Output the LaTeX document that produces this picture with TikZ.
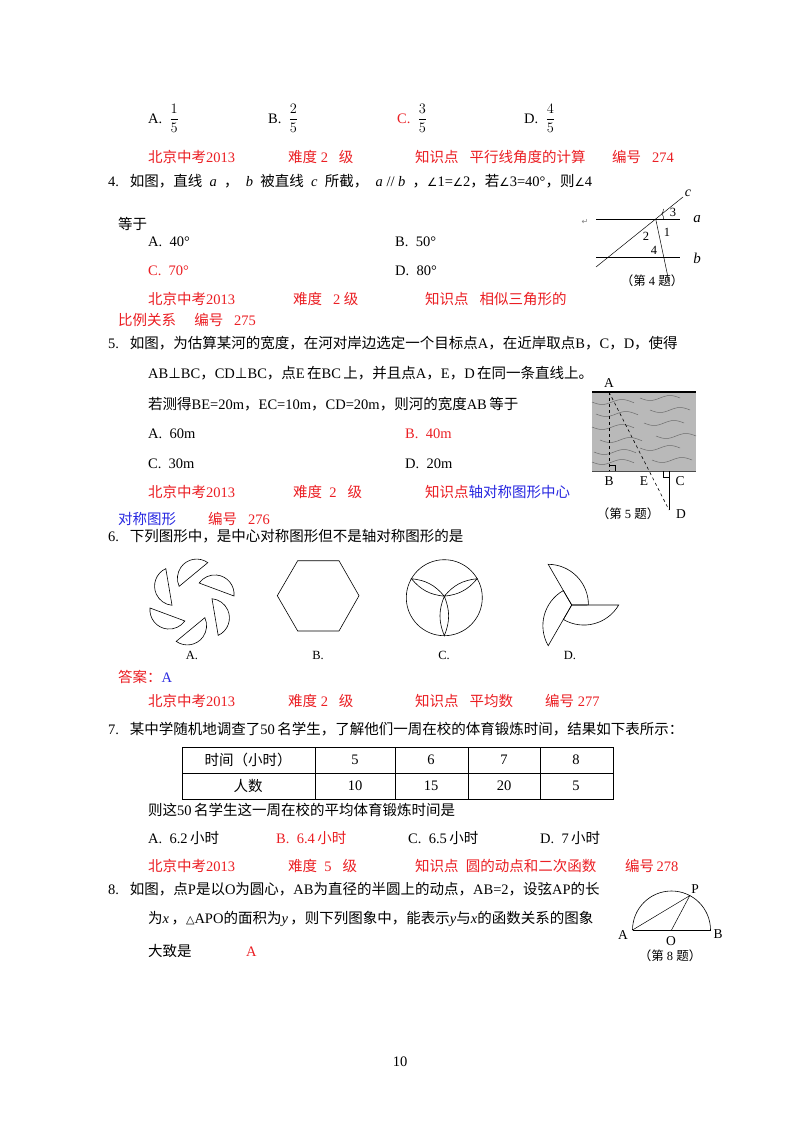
\documentclass[tikz,border=0pt]{standalone}
\usepackage{fontspec}
\setmainfont{Liberation Serif}
\newfontfamily\cjk{Noto Sans CJK SC}
\newfontfamily\sym{DejaVu Sans}
\usetikzlibrary{calc}
\definecolor{qred}{RGB}{235,30,35}
\definecolor{qblue}{RGB}{40,40,225}
\newcommand{\zh}[1]{{\cjk #1}}
\newcommand{\ang}{{\sym\fontsize{11.5}{12}\selectfont ∠}}
\begin{document}
\begin{tikzpicture}[x=1pt,y=-1pt,
  txt/.style={anchor=base west,inner sep=0pt,font=\fontsize{14.5}{16}\selectfont},
  rd/.style={txt,text=qred},
  blu/.style={txt,text=qblue},
  capt/.style={inner sep=0pt,font=\fontsize{12.5}{13}\selectfont},
  lab/.style={inner sep=0pt,font=\fontsize{13.5}{14}\selectfont},
  fig/.style={line width=0.6pt}]
\useasboundingbox[fill=white] (0,0) rectangle (800,1132);
% fractions line
\node[txt] (qa) at (148,123) {A.\ \ $\displaystyle\frac{1}{5}$};
\node[txt] (qb) at (268,123) {B.\ \ $\displaystyle\frac{2}{5}$};
\node[rd] (qc) at (397,123) {C.\ \ \color{black}$\displaystyle\frac{3}{5}$};
\node[txt] (qd) at (524,123) {D.\ \ $\displaystyle\frac{4}{5}$};
% info 274
\node[rd] (i1) at (148,162) {\zh{北京中考}2013};
\node[rd] (i2) at (288,162) {\zh{难度} 2\ \ \ \zh{级}};
\node[rd] (i3) at (415,162) {\zh{知识点}\ \ \ \zh{平行线角度的计算}};
\node[rd] (i4) at (612,162) {\zh{编号}\ \ \ 274};
% Q4
\node[txt] (q4) at (108,186) {4.\ \ \ \zh{如图，直线}\ \ \textit{a}\ \ \zh{，}\ \ \textit{b}\ \ \zh{被直线}\ \ \textit{c}\ \ \zh{所截，}\ \ \textit{a} // \textit{b}\ \ \zh{，}\ang1=\ang2\zh{，若}\ang3=40°\zh{，则}\ang4};
\node[txt] (q4b) at (118,229) {\zh{等于}};
\node[txt] (a4a) at (148,246) {A.\ \ 40°};
\node[txt] (a4b) at (395,246) {B.\ \ 50°};
\node[rd] (a4c) at (148,275) {C.\ \ 70°};
\node[txt] (a4d) at (395,275) {D.\ \ 80°};
% info 275
\node[rd] (j1) at (148,304) {\zh{北京中考}2013};
\node[rd] (j2) at (293,304) {\zh{难度}\ \ \ 2 \zh{级}};
\node[rd] (j3) at (425,304) {\zh{知识点}\ \ \ \zh{相似三角形的}};
\node[rd] (j4) at (118,325) {\zh{比例关系}\ \ \ \ \ \zh{编号}\ \ \ 275};
% Q5
\node[txt] (q5) at (108,348) {5.\ \ \ \zh{如图，为估算某河的宽度，在河对岸边选定一个目标点}A\zh{，在近岸取点}B\zh{，}C\zh{，}D\zh{，使得}};
\node[txt] (q5b) at (148,378) {AB{\sym⊥}BC\zh{，}CD{\sym⊥}BC\zh{，点}E\,\zh{在}BC\,\zh{上，并且点}A\zh{，}E\zh{，}D\,\zh{在同一条直线上。}};
\node[txt] (q5c) at (148,409) {\zh{若测得}BE=20m\zh{，}EC=10m\zh{，}CD=20m\zh{，则河的宽度}AB\,\zh{等于}};
\node[txt] (a5a) at (148,438) {A.\ \ 60m};
\node[rd] (a5b) at (405,438) {B.\ \ 40m};
\node[txt] (a5c) at (148,468) {C.\ \ 30m};
\node[txt] (a5d) at (405,468) {D.\ \ 20m};
% info 276
\node[rd] (k1) at (148,497) {\zh{北京中考}2013};
\node[rd] (k2) at (293,497) {\zh{难度}\ \ 2\ \ \ \zh{级}};
\node[rd] (k3) at (425,497) {\zh{知识点}\color{qblue}\zh{轴对称图形中心}};
\node[blu] (k4) at (118,524) {\zh{对称图形}};
\node[rd] (k5) at (208,524) {\zh{编号}\ \ \ 276};
% Q6
\node[txt] (q6) at (108,541) {6.\ \ \ \zh{下列图形中，是中心对称图形但不是轴对称图形的是}};
\node[rd] (ans) at (118,682) {\zh{答案：}\color{qblue}A};
% info 277
\node[rd] (l1) at (148,706) {\zh{北京中考}2013};
\node[rd] (l2) at (288,706) {\zh{难度} 2\ \ \ \zh{级}};
\node[rd] (l3) at (415,706) {\zh{知识点}\ \ \ \zh{平均数}};
\node[rd] (l4) at (545,706) {\zh{编号} 277};
% Q7
\node[txt] (q7) at (108,734) {7.\ \ \ \zh{某中学随机地调查了}50\,\zh{名学生，了解他们一周在校的体育锻炼时间，结果如下表所示：}};
\draw[line width=0.8pt] (182,747) rectangle (613,799);
\draw[line width=0.8pt] (182,773) -- (613,773);
\foreach \xx in {315,395,468,540} \draw[line width=0.8pt] (\xx,747) -- (\xx,799);
\node[txt,anchor=center] (t0) at (248,760) {\zh{时间（小时）}};
\node[txt,anchor=center] (t1) at (355,760) {5};
\node[txt,anchor=center] (t2) at (431,760) {6};
\node[txt,anchor=center] (t3) at (504,760) {7};
\node[txt,anchor=center] (t4) at (576,760) {8};
\node[txt,anchor=center] (u0) at (248,786) {\zh{人数}};
\node[txt,anchor=center] (u1) at (355,786) {10};
\node[txt,anchor=center] (u2) at (431,786) {15};
\node[txt,anchor=center] (u3) at (504,786) {20};
\node[txt,anchor=center] (u4) at (576,786) {5};
\node[txt] (q7b) at (148,815) {\zh{则这}50\,\zh{名学生这一周在校的平均体育锻炼时间是}};
\node[txt] (a7a) at (148,843) {A.\ \ 6.2\,\zh{小时}};
\node[rd] (a7b) at (276,843) {B.\ \ 6.4\,\zh{小时}};
\node[txt] (a7c) at (408,843) {C.\ \ 6.5\,\zh{小时}};
\node[txt] (a7d) at (540,843) {D.\ \ 7\,\zh{小时}};
% info 278
\node[rd] (m1) at (148,871) {\zh{北京中考}2013};
\node[rd] (m2) at (288,871) {\zh{难度}\ \ 5\ \ \ \zh{级}};
\node[rd] (m3) at (415,871) {\zh{知识点}\ \ \zh{圆的动点和二次函数}};
\node[rd] (m4) at (625,871) {\zh{编号}\,278};
% Q8
\node[txt] (q8) at (108,894) {8.\ \ \ \zh{如图，点}P\zh{是以}O\zh{为圆心，}AB\zh{为直径的半圆上的动点，}AB=2\zh{，设弦}AP\zh{的长}};
\node[txt] (q8b) at (148,923) {\zh{为}\textit{x}\,\zh{，}{\sym\fontsize{11}{12}\selectfont △}APO\zh{的面积为}\textit{y}\,\zh{，则下列图象中，能表示}\textit{y}\zh{与}\textit{x}\zh{的函数关系的图象}};
\node[txt] (q8c) at (148,956) {\zh{大致是}};
\node[rd] (a8) at (246,956) {A};
\node[txt,anchor=center] (pg) at (400,1062) {10};

% ---------- Figure 4 ----------
\coordinate (c1) at (596,267); \coordinate (c2) at (683,197);
\coordinate (X) at (655.7,219); \coordinate (Y) at (669,282);
\draw[fig] (596,219) -- (680,219);
\draw[fig] (596,257) -- (680,257);
\draw[line width=0.5pt] (c1) -- (c2);
\draw[line width=0.5pt] (X) -- (Y);
\draw[line width=0.4pt] ($(X)+(8,0)$) arc[start angle=0,end angle=-39,radius=8];
\draw[line width=0.4pt] ($(X)+(6,-5)$) arc[start angle=39,end angle=0,radius=8];
\node[capt] (n3) at (673,212) {3};
\node[capt] (n1) at (667,232) {1};
\node[capt] (n2) at (646,236) {2};
\node[capt] (n4) at (654,250) {4};
\node[lab,font=\fontsize{14}{14}\selectfont\itshape] (lc) at (688,193) {c};
\node[lab,font=\fontsize{15}{15}\selectfont\itshape] (la) at (697,219) {a};
\node[lab,font=\fontsize{15}{15}\selectfont\itshape] (lb) at (697,258) {b};
\node[capt,text=gray] (ret) at (585,222) {\sym\fontsize{8}{9}\selectfont ↵};
\node[capt] (cap4) at (652,281) {\zh{（第} 4 \zh{题）}};

% ---------- Figure 5 ----------
\fill[gray!55] (592,392) rectangle (696,471);
\foreach \yy/\xs in {402/592,414/596,427/592,440/600,452/594,462/592}
  \draw[gray!85!black,line width=0.5pt] plot[domain=0:42,smooth,samples=20] ({\xs+\x},{\yy+2.5*sin(\x*9)});
\foreach \yy/\xs in {398/640,410/650,423/644,436/656,448/640,460/652}
  \draw[gray!85!black,line width=0.5pt] plot[domain=0:40,smooth,samples=20] ({\xs+\x},{\yy+2.5*sin(\x*9)});
\draw[line width=1.2pt] (592,392) -- (696,392);
\draw[line width=0.8pt,black!70] (592,471) -- (696,471);
\coordinate (A5) at (609,392); \coordinate (B5) at (609,471);
\coordinate (C5) at (669,471); \coordinate (D5) at (669,510);
\draw[dashed,line width=0.6pt] (A5) -- (B5);
\draw[dashed,line width=0.6pt] (A5) -- (D5);
\draw[line width=0.8pt] (C5) -- (D5);
\draw[line width=0.5pt] (609,465) -- (615,465) -- (615,471);
\draw[line width=0.5pt] (663,471) -- (663,477) -- (669,477);
\node[lab] (lA5) at (609,383) {A};
\node[lab] (lB5) at (609,481) {B};
\node[lab] (lE5) at (644,481) {E};
\node[lab] (lC5) at (680,481) {C};
\node[lab] (lD5) at (681,514) {D};
\node[capt] (cap5) at (628,514) {\zh{（第} 5 \zh{题）}};

% ---------- Figure 6 A ----------
\begin{scope}[shift={(192,602)},yscale=-1,line width=0.6pt]
\foreach \k in {0,...,5}{
  \begin{scope}[rotate=-60*\k]
  \draw (42,6) arc[start angle=-5.4,end angle=144.6,radius=19.25] -- cycle;
  \end{scope}}
\end{scope}
\node[capt] (fa) at (192,655) {A.};
% B
\draw[line width=0.6pt] (297.7,560.7) -- (339,560.7) -- (359,595.7) -- (339,631) -- (297.7,631) -- (277.3,595.7) -- cycle;
\node[capt] (fb) at (318,655) {B.};
% C
\begin{scope}[shift={(444.3,597.7)},yscale=-1,line width=0.6pt]
\draw (0,0) circle[radius=38];
\coordinate (O6) at (0,1.5);
\foreach \a in {150,30,-90}{
  \draw (O6) to[bend left=22] (\a:38) to[bend left=22] (O6);}
\end{scope}
\node[capt] (fc) at (444,655) {C.};
% D
\begin{scope}[shift={(571.7,605)},yscale=-1,line width=0.6pt]
\foreach \k in {0,1,2}{
  \begin{scope}[rotate=120*\k]
  \draw (0,0) -- (47,0) to[bend right=45] (-8.3,-14.5) -- cycle;
  \end{scope}}
\end{scope}
\node[capt] (fd) at (570,655) {D.};

% ---------- Figure 8 ----------
\coordinate (O8) at (671.5,930);
\coordinate (A8) at (632.5,930);
\coordinate (B8) at (710.5,930);
\coordinate (P8) at ($(O8)+(18.3,-34.4)$);
\draw[line width=0.6pt] (B8) arc[start angle=0,end angle=-180,radius=39];
\draw[line width=0.6pt] (A8) -- (B8);
\draw[line width=0.5pt] (A8) -- (P8) -- (O8);
\node[lab] (lA8) at (623,935) {A};
\node[lab] (lB8) at (718,934) {B};
\node[lab] (lO8) at (671,941) {O};
\node[lab] (lP8) at (695,889) {P};
\node[capt] (cap8) at (670,956) {\zh{（第} 8 \zh{题）}};
\end{tikzpicture}
\end{document}
